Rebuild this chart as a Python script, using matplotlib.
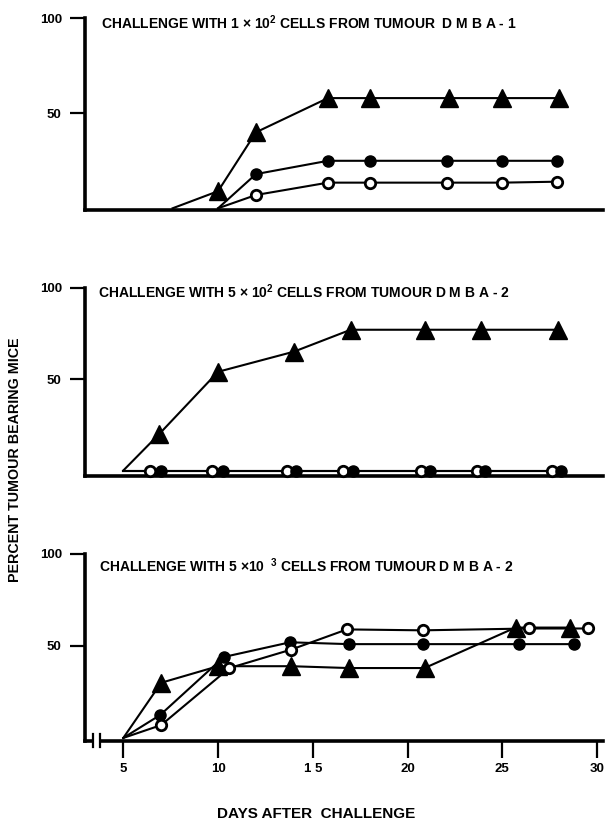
import matplotlib
matplotlib.use("Agg")
import matplotlib.pyplot as plt
import matplotlib.transforms as mtransforms
from matplotlib.patches import Rectangle

plt.rcParams['font.family'] = ['Liberation Sans', 'DejaVu Sans']
plt.rcParams['font.weight'] = 'bold'
plt.rcParams['mathtext.fontset'] = 'custom'
plt.rcParams['mathtext.rm'] = 'Liberation Sans:bold'
plt.rcParams['mathtext.default'] = 'rm'

# ---------------- data ----------------
titles = [
    "CHALLENGE WITH 1 \u00d7 10$^{2}$ CELLS FROM TUMOUR  D M B A - 1",
    "CHALLENGE WITH 5 \u00d7 10$^{2}$ CELLS FROM TUMOUR D M B A - 2",
    "CHALLENGE WITH 5 \u00d710$^{\\ \\ 3}$ CELLS FROM TUMOUR D M B A - 2",
]

top_tri_x = [7.6, 10, 12, 15.8, 18, 22.2, 25, 28]
top_tri_y = [0, 9, 40, 58, 58, 58, 58, 58]
top_fill_x = [10, 12, 15.8, 18, 22.1, 25, 27.9]
top_fill_y = [0, 18, 25, 25, 25, 25, 25]
top_open_x = [10, 12, 15.8, 18, 22.1, 25, 27.9]
top_open_y = [0, 7, 13.5, 13.5, 13.5, 13.5, 14]

mid_tri_x = [5, 6.9, 10, 14, 17, 20.9, 23.9, 27.95]
mid_tri_y = [0, 20, 54, 65, 77, 77, 77, 77]
mid_open_x = [5, 6.4, 9.7, 13.65, 16.6, 20.7, 23.65, 27.6]
mid_open_y = [0, 0, 0, 0, 0, 0, 0, 0]
mid_fill_x = [5, 7, 10.25, 14.1, 17.1, 21.2, 24.1, 28.1]
mid_fill_y = [0, 0, 0, 0, 0, 0, 0, 0]

bot_tri_x = [5, 7, 10, 13.85, 16.9, 20.9, 25.7, 28.6]
bot_tri_y = [0, 30, 39, 39, 38, 38, 60, 60]
bot_fill_x = [5, 6.95, 10.3, 13.8, 16.9, 20.8, 25.9, 28.8]
bot_fill_y = [0, 12.5, 44, 52, 51, 51, 51, 51]
bot_open_x = [5, 7.0, 10.6, 13.85, 16.8, 20.8, 26.4, 29.5]
bot_open_y = [0, 7, 38, 48, 59, 58.5, 59.5, 59.5]

y_ticks = [50, 100]
x_ticks = [5, 10, 15, 20, 25, 30]
x_tick_labels = ["5", "10", "1 5", "20", "25", "30"]

# ---------------- layout ----------------
W, H = 605, 822
fig = plt.figure(figsize=(W / 100, H / 100), dpi=100)
left = 85.4 / W
width = (602.7 - 85.4) / W

panels = [
    dict(top=18.3, bot=210.0, ylo=-0.9,
         series=[(top_tri_x, top_tri_y), (top_fill_x, top_fill_y), (top_open_x, top_open_y)],
         title_y=23, title_x=101),
    dict(top=287.7, bot=476.0, ylo=-3.0,
         series=[(mid_tri_x, mid_tri_y), (mid_fill_x, mid_fill_y), (mid_open_x, mid_open_y)],
         title_y=291.7, title_x=98),
    dict(top=554.0, bot=740.7, ylo=-1.5,
         series=[(bot_tri_x, bot_tri_y), (bot_fill_x, bot_fill_y), (bot_open_x, bot_open_y)],
         title_y=566, title_x=99),
]

LW = 1.5
axes = []
for i, p in enumerate(panels):
    ax = fig.add_axes([left, 1 - p['bot'] / H, width, (p['bot'] - p['top']) / H])
    axes.append(ax)
    ax.set_xlim(3, 30.3)
    ax.set_ylim(p['ylo'], 100)
    for s in ['top', 'right']:
        ax.spines[s].set_visible(False)
    for s in ['left', 'bottom']:
        ax.spines[s].set_linewidth(2.6)
        ax.spines[s].set_capstyle('projecting')
    ax.set_yticks(y_ticks)
    ax.set_yticklabels([str(v) for v in y_ticks], fontsize=9.5, fontweight='bold')
    ax.tick_params(axis='y', direction='out', length=11, width=1.6, pad=6)
    if i < 2:
        ax.set_xticks([])
    else:
        ax.set_xticks(x_ticks)
        ax.set_xticklabels(x_tick_labels, fontsize=9.5, fontweight='bold')
        ax.tick_params(axis='x', direction='out', length=12, width=1.6, pad=4)

    (tx, ty), (fx, fy), (ox, oy) = p['series']
    if i == 1:
        ax.plot(ox, oy, '-', color='black', lw=LW, zorder=2)
        ax.plot(ox[1:], oy[1:], 'o', ms=7.5, mfc='white', mec='black', mew=2.0, zorder=4)
        ax.plot(fx, fy, '-', color='black', lw=LW, zorder=2)
        ax.plot(fx[1:], fy[1:], 'o', ms=8, color='black', zorder=5)
        ax.plot(tx, ty, '-', color='black', lw=LW, zorder=2)
        ax.plot(tx[1:], ty[1:], '^', ms=13.5, color='black', zorder=6)
    else:
        ax.plot(tx, ty, '-', color='black', lw=LW, zorder=2)
        ax.plot(tx[1:], ty[1:], '^', ms=13.5, color='black', zorder=4)
        ax.plot(fx, fy, '-', color='black', lw=LW, zorder=2)
        ax.plot(fx[1:], fy[1:], 'o', ms=8, color='black', zorder=5)
        ax.plot(ox, oy, '-', color='black', lw=LW, zorder=2)
        ax.plot(ox[1:], oy[1:], 'o', ms=7.5, mfc='white', mec='black', mew=2.0, zorder=6)
    for line in ax.lines:
        line.set_clip_on(False)

    fig.text(p['title_x'] / W, 1 - p['title_y'] / H, titles[i], fontsize=10,
             fontweight='bold', ha='left', va='center')

# axis break on bottom panel
axb = axes[2]
trans = mtransforms.blended_transform_factory(axb.transData, axb.transAxes)
axb.add_patch(Rectangle((3.45, -0.03), 0.3, 0.06, transform=trans, facecolor='white',
                        edgecolor='none', clip_on=False, zorder=10))
for bx in (3.42, 3.77):
    axb.plot([bx, bx], [-0.035, 0.035], transform=trans, color='black', lw=1.6,
             clip_on=False, zorder=11)

fig.text(15 / W, 1 - 460 / H, "PERCENT TUMOUR BEARING MICE", rotation=90,
         fontsize=10.3, fontweight='bold', ha='center', va='center')
fig.text(316.5 / W, 1 - 814 / H, "DAYS AFTER  CHALLENGE", fontsize=11,
         fontweight='bold', ha='center', va='center')

fig.savefig("out.png", dpi=100, facecolor='white')
